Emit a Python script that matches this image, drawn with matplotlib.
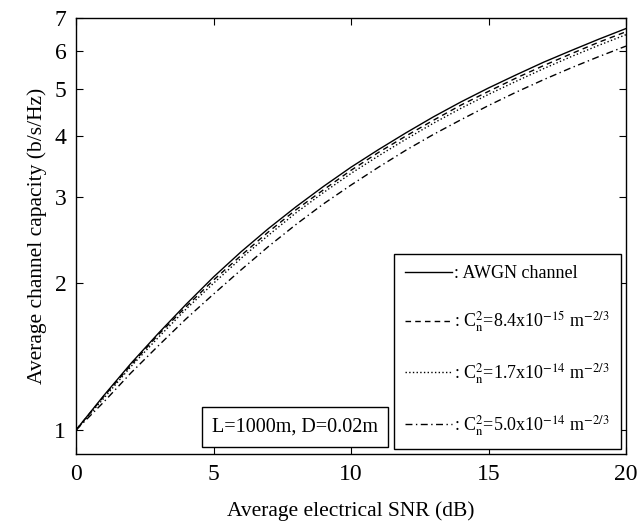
import numpy as np
import matplotlib.pyplot as plt
from matplotlib.ticker import FixedLocator, NullLocator

plt.rcParams['font.family'] = ['Liberation Serif', 'DejaVu Serif']
plt.rcParams['mathtext.fontset'] = 'stix'

# data
snr_db = [0, 1, 2, 3, 4, 5, 6, 7, 8, 9, 10, 11, 12, 13, 14, 15, 16, 17, 18, 19, 20]
awgn = [1.00, 1.175, 1.37, 1.58, 1.81, 2.06, 2.32, 2.59, 2.87, 3.16, 3.46, 3.76,
        4.07, 4.39, 4.71, 5.03, 5.35, 5.68, 6.00, 6.33, 6.66]
cn_84e15 = [1.00, 1.17, 1.36, 1.57, 1.79, 2.03, 2.28, 2.55, 2.83, 3.11, 3.41, 3.71,
            4.01, 4.32, 4.64, 4.95, 5.27, 5.59, 5.91, 6.24, 6.56]
cn_17e14 = [1.00, 1.16, 1.35, 1.55, 1.77, 2.00, 2.25, 2.51, 2.79, 3.07, 3.36, 3.65,
            3.95, 4.26, 4.57, 4.88, 5.19, 5.51, 5.83, 6.15, 6.47]
cn_50e14 = [1.00, 1.14, 1.31, 1.49, 1.69, 1.90, 2.13, 2.38, 2.64, 2.91, 3.18, 3.46,
            3.75, 4.04, 4.33, 4.63, 4.93, 5.23, 5.53, 5.83, 6.13]
labels = [': AWGN channel',
          r': C$_\mathrm{n}^\mathrm{2}$=8.4x10$^{-15}$ m$^{-2/3}$',
          r': C$_\mathrm{n}^\mathrm{2}$=1.7x10$^{-14}$ m$^{-2/3}$',
          r': C$_\mathrm{n}^\mathrm{2}$=5.0x10$^{-14}$ m$^{-2/3}$']
y_ticks = [1, 2, 3, 4, 5, 6, 7]
x_ticks = [0, 5, 10, 15, 20]

fig = plt.figure(figsize=(6.41, 5.23), dpi=100)
ax = fig.add_axes([76/641, 1-454/523, 550/641, 436/523])

ax.plot(snr_db, awgn, 'k-', lw=1.0, label=labels[0])
ax.plot(snr_db, cn_84e15, 'k--', lw=1.0, dashes=(4, 3), label=labels[1])
ax.plot(snr_db, cn_17e14, 'k:', lw=1.0, label=labels[2])
ax.plot(snr_db, cn_50e14, 'k-.', lw=1.0, dashes=(5, 2.5, 1, 2.5), label=labels[3])

ax.set_yscale('log')
ax.set_xlim(0, 20)
ax.set_ylim(0.893, 7)
ax.yaxis.set_major_locator(FixedLocator(y_ticks))
ax.yaxis.set_minor_locator(NullLocator())
ax.set_yticklabels([str(t) for t in y_ticks])
ax.set_xticks(x_ticks)
ax.set_xticklabels([str(t) for t in x_ticks])
ax.tick_params(direction='in', top=True, right=True, labelsize=17, length=5, pad=7)
for s in ax.spines.values():
    s.set_linewidth(1.0)

ax.set_xlabel('Average electrical SNR (dB)', fontsize=15.5, labelpad=12)
ax.set_ylabel('Average channel capacity (b/s/Hz)', fontsize=15.5, labelpad=5)

leg = ax.legend(loc='lower right', fontsize=13, handlelength=2.6, handletextpad=0.15,
                labelspacing=1.5, borderpad=0.6, fancybox=False, framealpha=1,
                edgecolor='black', borderaxespad=0.3)
leg.get_frame().set_linewidth(1.0)

ax.text(0.248, 0.04, 'L=1000m, D=0.02m', transform=ax.transAxes, fontsize=14.5,
        va='bottom', ha='left',
        bbox=dict(boxstyle='square,pad=0.5', fc='white', ec='black', lw=1.0))

fig.savefig('out.png', dpi=100)
